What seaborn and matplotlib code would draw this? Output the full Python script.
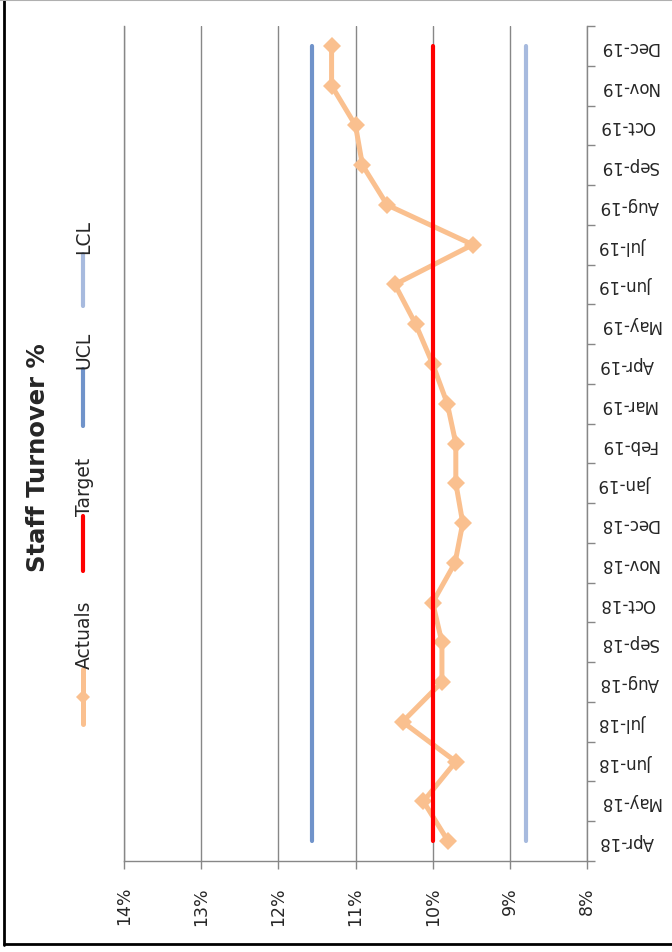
import numpy as np
import pandas as pd
import matplotlib
matplotlib.use("Agg")
import matplotlib.pyplot as plt
from matplotlib.lines import Line2D
import seaborn as sns

# Monthly staff turnover with control limits
months = ["Apr-18", "May-18", "Jun-18", "Jul-18", "Aug-18", "Sep-18", "Oct-18",
          "Nov-18", "Dec-18", "Jan-19", "Feb-19", "Mar-19", "Apr-19", "May-19",
          "Jun-19", "Jul-19", "Aug-19", "Sep-19", "Oct-19", "Nov-19", "Dec-19"]
actuals = [9.80, 10.12, 9.70, 10.39, 9.88, 9.88, 10.00, 9.71, 9.61, 9.70, 9.70,
           9.81, 10.00, 10.22, 10.49, 9.48, 10.59, 10.91, 11.00, 11.31, 11.31]
target = 10.0
ucl = 11.57
lcl = 8.79
pct_ticks = [8, 9, 10, 11, 12, 13, 14]
pct_labels = ["8%", "9%", "10%", "11%", "12%", "13%", "14%"]

C_ACT = "#FAC08F"
C_TGT = "#FF0000"
C_UCL = "#7093CA"
C_LCL = "#A7BADE"
C_GRID = "#878787"

sns.set_style("white")
plt.rcParams["font.family"] = ["DejaVu Sans"]

W, H = 672, 953
fig = plt.figure(figsize=(W / 100, H / 100), dpi=100)


def fx(x):
    return x / W


def fy(y):
    return 1 - y / H


ax = fig.add_axes([fx(124), fy(862), fx(587) - fx(124), fy(27) - fy(862)])

pos = np.arange(len(months))
df = pd.DataFrame({
    "pos": pos,
    "Actuals": actuals,
    "Target": [target] * len(months),
    "UCL": [ucl] * len(months),
    "LCL": [lcl] * len(months),
})

sns.lineplot(data=df, x="Actuals", y="pos", orient="y", ax=ax, color=C_ACT,
             lw=3.6, marker="D", markersize=9, markeredgewidth=0, zorder=3)
sns.lineplot(data=df, x="Target", y="pos", orient="y", ax=ax, color=C_TGT,
             lw=3.0, zorder=4)
sns.lineplot(data=df, x="UCL", y="pos", orient="y", ax=ax, color=C_UCL,
             lw=3.0, zorder=4)
sns.lineplot(data=df, x="LCL", y="pos", orient="y", ax=ax, color=C_LCL,
             lw=3.0, zorder=4)

ax.set_xlim(14, 8)
ax.set_ylim(-0.5, len(months) - 0.5)
ax.set_xlabel("")
ax.set_ylabel("")

# Percentage axis along the bottom
ax.set_xticks(pct_ticks)
ax.set_xticklabels(pct_labels, rotation=90, fontsize=12.5)
ax.tick_params(axis="x", which="major", direction="out", length=6, width=1,
               color=C_GRID, pad=12, bottom=True)
ax.grid(axis="x", color=C_GRID, lw=1)
ax.grid(axis="y", visible=False)

# Month axis on the right, labels upside down
ax.yaxis.tick_right()
ax.set_yticks(pos)
ax.set_yticklabels(months, rotation=180, fontsize=12, va="center", ha="left")
ax.set_yticks(np.arange(len(months) + 1) - 0.5, minor=True)
ax.tick_params(axis="y", which="major", length=0, pad=9)
ax.tick_params(axis="y", which="minor", direction="out", length=6, width=1,
               color=C_GRID, right=True, left=False)

for side in ["right", "bottom", "left"]:
    ax.spines[side].set_visible(True)
    ax.spines[side].set_color(C_GRID)
    ax.spines[side].set_linewidth(1)
ax.spines["top"].set_visible(False)

# Title
fig.text(fx(38), fy(458), "Staff Turnover %", rotation=90, fontsize=17.5,
         fontweight="bold", ha="center", va="center")

# Legend drawn vertically: line sample first, label continuing upward
legend_items = [
    ("Actuals", C_ACT, 725, 670, True),
    ("Target", C_TGT, 572, 517, False),
    ("UCL", C_UCL, 427, 370, False),
    ("LCL", C_LCL, 307, 255, False),
]
lx = 83
for label, col, y0, y1, has_marker in legend_items:
    fig.add_artist(Line2D([fx(lx), fx(lx)], [fy(y0), fy(y1)], color=col,
                          lw=3.6 if has_marker else 3.0,
                          solid_capstyle="round",
                          transform=fig.transFigure))
    if has_marker:
        fig.add_artist(Line2D([fx(lx)], [fy((y0 + y1) / 2)], color=col,
                              marker="D", markersize=7.5, markeredgewidth=0,
                              transform=fig.transFigure))
    fig.text(fx(lx + 1), fy(y1 - 1), label, rotation=90, fontsize=13.5,
             ha="left", va="center", rotation_mode="anchor")

# Chart frame
fig.add_artist(Line2D([fx(4), fx(4)], [fy(946), 1], color="black", lw=2,
                      transform=fig.transFigure))
fig.add_artist(Line2D([fx(4), 1], [fy(945), fy(945)], color="black", lw=2,
                      transform=fig.transFigure))
fig.add_artist(Line2D([0, 1], [fy(0.8), fy(0.8)], color="#B0B0B0", lw=1.5,
                      transform=fig.transFigure))

fig.savefig("out.png", dpi=100)
